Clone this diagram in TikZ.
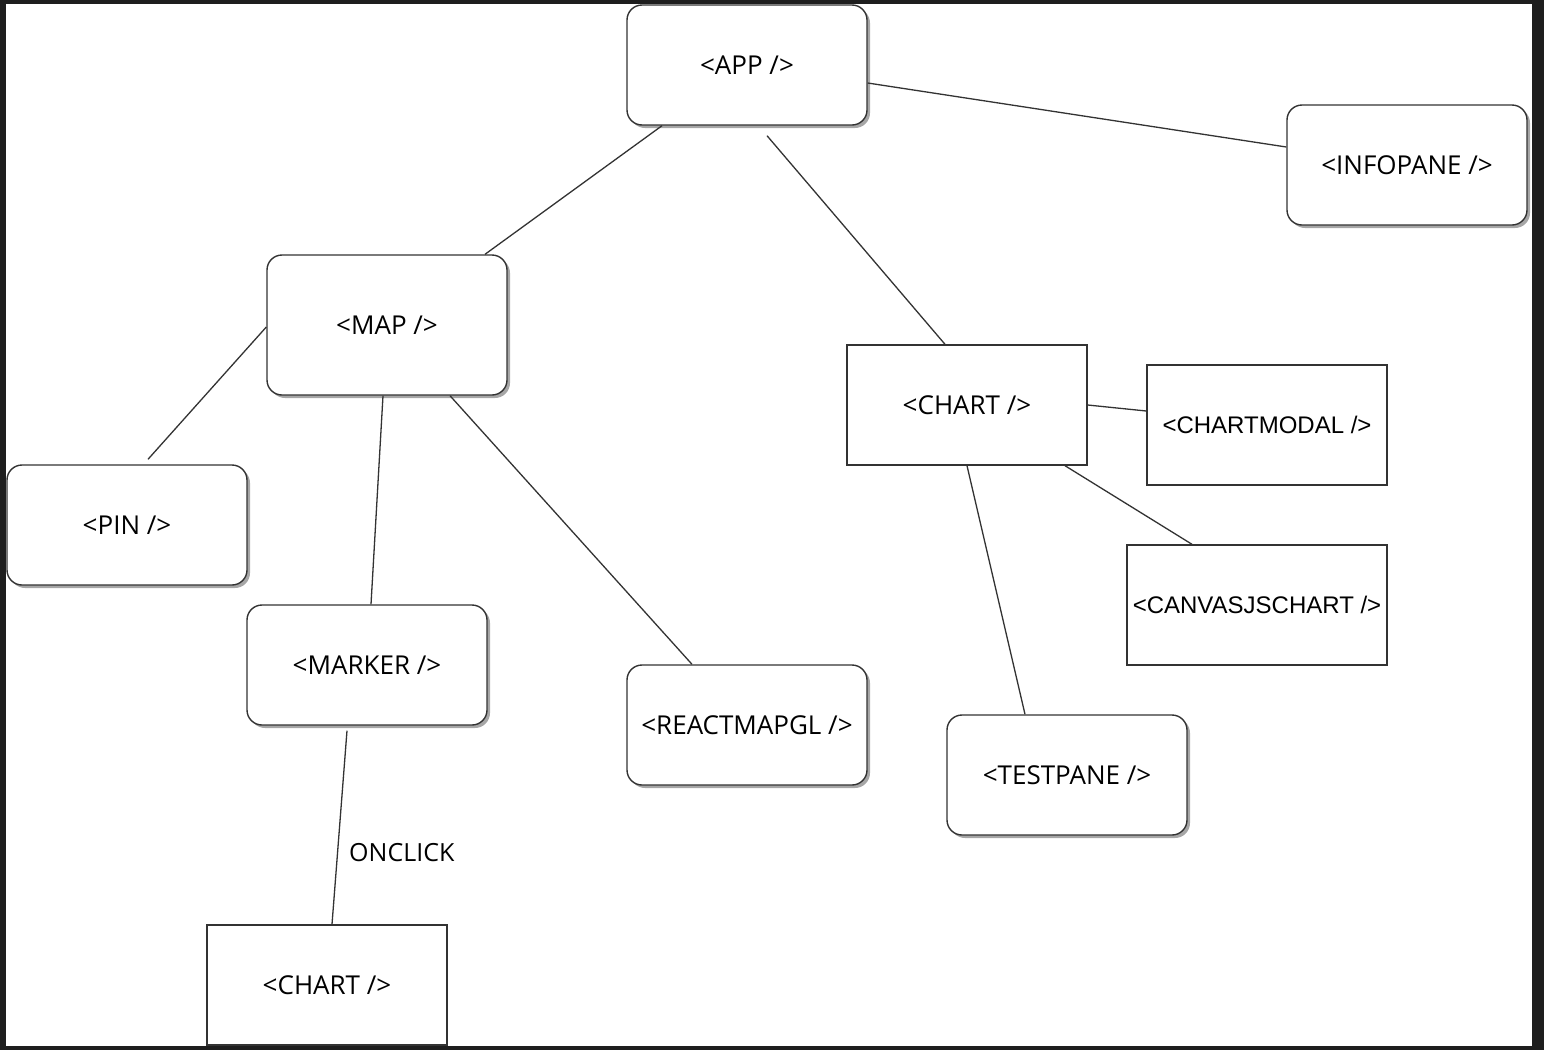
\documentclass[tikz,border=0pt]{standalone}
\usepackage{fontspec}
\setmainfont{Open Sans}
\newfontfamily\helv{Liberation Sans}
\usetikzlibrary{calc,shadows}
\definecolor{frame}{HTML}{1E1E1E}
\definecolor{ink}{HTML}{333333}
\tikzset{
  rbox/.style={draw=ink, line width=1.4pt, fill=white, rounded corners=15pt,
    minimum width=240pt, minimum height=120pt, inner sep=0pt,
    font=\fontsize{26pt}{30pt}\selectfont,
    drop shadow={shadow xshift=3pt, shadow yshift=-3pt, opacity=0.35, fill=black}},
  sbox/.style={draw=ink, line width=1.4pt, fill=white,
    minimum width=240pt, minimum height=120pt, inner sep=0pt,
    font=\fontsize{26pt}{30pt}\selectfont},
  hbox/.style={sbox, font=\helv\fontsize{24pt}{28pt}\selectfont},
  link/.style={draw=ink, line width=1.3pt},
}
\begin{document}
\begin{tikzpicture}[x=1pt,y=-1pt]
\fill[frame] (0,0) rectangle (1544,1050);
\fill[white] (6,4) rectangle (1532,1046);
\useasboundingbox (0,0) rectangle (1544,1050);

\node[rbox] (app) at (747,65) {<APP />};
\node[rbox] (info) at (1407,165) {<INFOPANE />};
\node[rbox, minimum height=140pt] (map) at (387,325) {<MAP />};
\node[sbox] (chart) at (967,405) {<CHART />};
\node[hbox] (cmodal) at (1267,425) {<CHARTMODAL />};
\node[hbox, minimum width=260pt] (canvas) at (1257,605) {<CANVASJSCHART />};
\node[rbox] (pin) at (127,525) {<PIN />};
\node[rbox] (marker) at (367,665) {<MARKER />};
\node[rbox] (react) at (747,725) {<REACTMAPGL />};
\node[rbox] (test) at (1067,775) {<TESTPANE />};
\node[sbox] (chart2) at (327,985) {<CHART />};

\draw[link] ($(app.south)+(-85,0)$) -- ($(map.north)+(98,0)$);
\draw[link] ($(app.south)+(20,10)$) -- ($(chart.north)+(-22,0)$);
\draw[link] ($(app.east)+(0,18)$) -- ($(info.west)+(0,-18)$);
\draw[link] ($(map.west)+(0,2)$) -- ($(pin.north)+(21,-5)$);
\draw[link] ($(map.south)+(-4,0)$) -- ($(marker.north)+(4,0)$);
\draw[link] ($(map.south)+(63,0)$) -- ($(react.north)+(-55,0)$);
\draw[link] (chart.east) -- ($(cmodal.west)+(0,-14)$);
\draw[link] ($(chart.south)+(98,0)$) -- ($(canvas.north)+(-65,0)$);
\draw[link] (chart.south) -- ($(test.north)+(-42,0)$);
\draw[link] ($(marker.south)+(-20,5)$) -- ($(chart2.north)+(5,0)$);
\node[anchor=west, inner sep=0pt, font=\fontsize{25pt}{29pt}\selectfont] (onclick) at (349,853) {ONCLICK};
\end{tikzpicture}
\end{document}
